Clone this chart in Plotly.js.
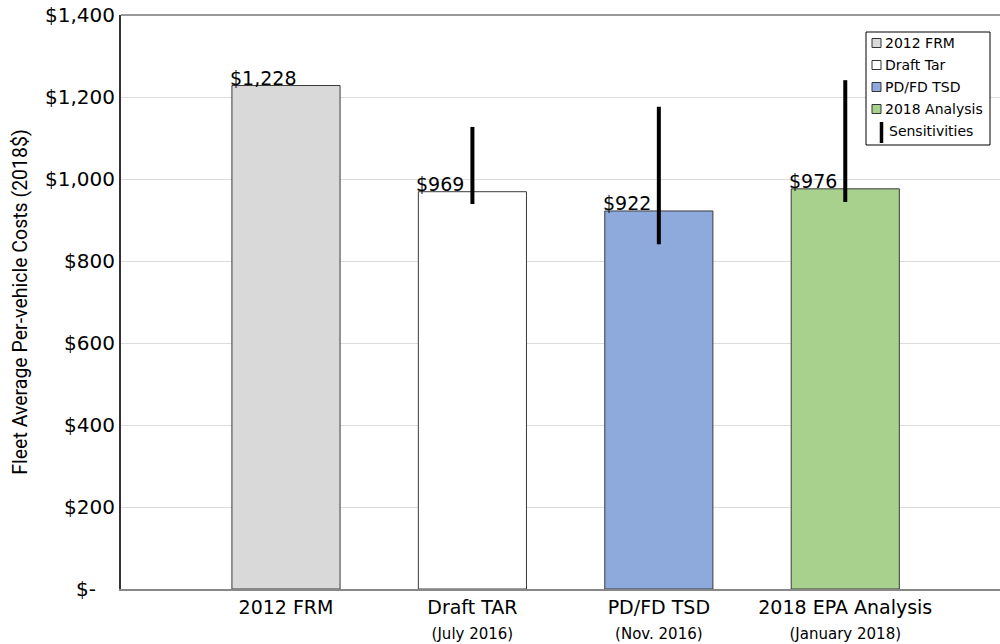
<!DOCTYPE html>
<html>
<head>
<meta charset="utf-8">
<script src="https://cdn.plot.ly/plotly-3.0.1.min.js"></script>
<style>html,body{margin:0;padding:0;background:#fff;}#chart{width:1000px;height:644px;}</style>
</head>
<body>
<div id="chart"></div>
<script>
// Data
var categories = ["2012 FRM", "Draft TAR", "PD/FD TSD", "2018 EPA Analysis"];
var subLabels = ["", "(July 2016)", "(Nov. 2016)", "(January 2018)"];
var legendNames = ["2012 FRM", "Draft Tar", "PD/FD TSD", "2018 Analysis"];
var sensName = "Sensitivities";
var costs = [1228, 969, 922, 976];
var sensLow = [null, 939, 841, 944];
var sensHigh = [null, 1127, 1176, 1241];
var barColors = ["#d9d9d9", "#ffffff", "#8eaadc", "#a9d18e"];
var yTickVals = [0, 200, 400, 600, 800, 1000, 1200, 1400];
var yTickText = ["$-\u00a0\u00a0\u00a0", "$200", "$400", "$600", "$800", "$1,000", "$1,200", "$1,400"];

var FONT = "DejaVu Sans, Verdana, sans-serif";
var M = {l: 121, r: 0, t: 15, b: 55};
var W = 1000, H = 644;
var PW = W - M.l - M.r, PH = H - M.t - M.b;
function px(x){ return (x - M.l) / PW; }
function py(y){ return (H - M.b - y) / PH; }

var xIdx = categories.map(function(c, i){ return i; });
var tickText = categories.map(function(c, i){
  return subLabels[i] ? c + "<br><span style='font-size:15px'>" + subLabels[i] + "</span>" : c;
});

var traces = [];
categories.forEach(function(c, i){
  var t = {
    type: "bar",
    x: [xIdx[i]],
    y: [costs[i]],
    name: legendNames[i],
    width: 0.58,
    marker: {color: barColors[i], line: {color: "#3a3a3a", width: 1}},
    hoverinfo: "y",
    showlegend: false
  };
  if (sensLow[i] !== null) {
    t.error_y = {
      type: "data", symmetric: false,
      array: [sensHigh[i] - costs[i]],
      arrayminus: [costs[i] - sensLow[i]],
      color: "#000", thickness: 4, width: 0
    };
  }
  traces.push(t);
});

var annotations = categories.map(function(c, i){
  return {
    x: xIdx[i] - 0.29, y: costs[i], xref: "x", yref: "y",
    text: "$" + costs[i].toLocaleString("en-US"),
    showarrow: false, xanchor: "left", yanchor: "bottom", xshift: -4, yshift: -5,
    font: {family: FONT, size: 19, color: "#000"}
  };
});

// Custom legend (box, swatches, labels)
var shapes = [
  {type: "line", xref: "paper", yref: "paper", x0: 0, x1: 1, y0: 1, y1: 1, line: {color: "#777", width: 1.5}},
  {type: "rect", xref: "paper", yref: "paper", x0: px(866), x1: px(990), y0: py(32), y1: py(145), fillcolor: "#fff", line: {color: "#000", width: 1}}
];
var legY = [43, 65, 87, 109];
legendNames.forEach(function(n, i){
  shapes.push({type: "rect", xref: "paper", yref: "paper",
    x0: px(872), x1: px(881), y0: py(legY[i] - 4.5), y1: py(legY[i] + 4.5),
    fillcolor: barColors[i], line: {color: "#333", width: 1}});
  annotations.push({xref: "paper", yref: "paper", x: px(883), y: py(legY[i]), text: n,
    showarrow: false, xanchor: "left", yanchor: "middle",
    font: {family: FONT, size: 14, color: "#000"}});
});
shapes.push({type: "line", xref: "paper", yref: "paper", x0: px(881.5), x1: px(881.5), y0: py(122), y1: py(143),
  line: {color: "#000", width: 3.5}});
annotations.push({xref: "paper", yref: "paper", x: px(887), y: py(131), text: sensName,
  showarrow: false, xanchor: "left", yanchor: "middle",
  font: {family: FONT, size: 14, color: "#000"}});

var layout = {
  width: W, height: H,
  margin: {l: M.l, r: M.r, t: M.t, b: M.b, pad: 0},
  paper_bgcolor: "#fff", plot_bgcolor: "#fff",
  barmode: "overlay",
  showlegend: false,
  xaxis: {
    range: [-0.885, 3.83],
    tickvals: xIdx, ticktext: tickText,
    tickfont: {family: FONT, size: 19, color: "#000"},
    showgrid: false, zeroline: false,
    showline: true, linecolor: "#888", linewidth: 2,
    mirror: false, ticks: "", fixedrange: true
  },
  yaxis: {
    range: [0, 1400],
    tickvals: yTickVals, ticktext: yTickText,
    tickfont: {family: FONT, size: 20, color: "#000"},
    title: {text: "Fleet Average Per-vehicle Costs (2018$)", font: {family: "Roboto, sans-serif", size: 19.5, color: "#000"}, standoff: 12},
    showgrid: true, gridcolor: "#dcdcdc", gridwidth: 1,
    zeroline: false, showline: true, linecolor: "#333", linewidth: 2,
    ticks: "", ticklen: 0, fixedrange: true
  },
  shapes: shapes,
  annotations: annotations
};

Plotly.newPlot("chart", traces, layout, {displayModeBar: false, staticPlot: true});
</script>
</body>
</html>
